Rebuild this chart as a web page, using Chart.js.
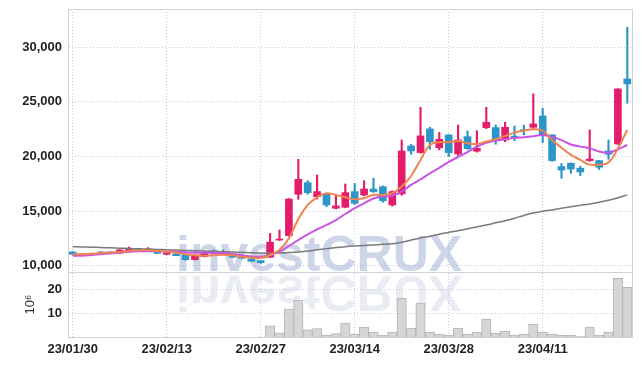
<!DOCTYPE html>
<html>
<head>
<meta charset="utf-8">
<script src="https://cdn.jsdelivr.net/npm/chart.js@4.4.1/dist/chart.umd.min.js"></script>
<style>
  html, body { margin: 0; padding: 0; background: #fff; }
  .wrap { width: 642px; height: 366px; position: relative; }
</style>
</head>
<body>
<div class="wrap"><canvas id="stock_chart"></canvas></div>
<script>
const dates = ['23/01/30','23/01/31','23/02/01','23/02/02','23/02/03','23/02/06','23/02/07','23/02/08','23/02/09','23/02/10',
  '23/02/13','23/02/14','23/02/15','23/02/16','23/02/17','23/02/20','23/02/21','23/02/22','23/02/23','23/02/24',
  '23/02/27','23/02/28','23/03/02','23/03/03','23/03/06','23/03/07','23/03/08','23/03/09','23/03/10','23/03/13',
  '23/03/14','23/03/15','23/03/16','23/03/17','23/03/20','23/03/21','23/03/22','23/03/23','23/03/24','23/03/27',
  '23/03/28','23/03/29','23/03/30','23/03/31','23/04/03','23/04/04','23/04/05','23/04/06','23/04/07','23/04/10',
  '23/04/11','23/04/12','23/04/13','23/04/14','23/04/17','23/04/18','23/04/19','23/04/20','23/04/21','23/04/24']

const opens = [11250, 10950, 11060, 11260, 11260, 11150, 11300, 11590, 11480, 11350,
  11040, 11070, 10980, 10560, 10830, 11330, 11290, 11010, 10820, 10610,
  10460, 10800, 12350, 12750, 16540, 17600, 16320, 16540, 15260, 15350,
  16780, 16470, 17020, 17230, 15560, 16570, 20960, 20350, 22520, 20800,
  21970, 20230, 21810, 20480, 22640, 22640, 21510, 21860, 22450, 22670,
  23710, 21970, 19070, 19380, 18920, 19620, 19620, 20500, 21140, 27100]
const closes = [11050, 11070, 11120, 11200, 11210, 11440, 11520, 11440, 11520, 11130,
  11190, 10920, 10550, 10950, 11120, 11150, 11240, 10770, 10680, 10400,
  10270, 12150, 12440, 16100, 17910, 16690, 16780, 15560, 15470, 16690,
  15710, 17020, 16780, 15950, 16780, 20500, 20500, 21880, 21350, 21570,
  20350, 21510, 20710, 20750, 23130, 21450, 22670, 21760, 22350, 22980,
  21970, 19620, 18760, 18850, 18580, 19770, 19010, 20200, 26180, 26640]
const highs = [11300, 11100, 11130, 11270, 11270, 11480, 11700, 11600, 11650, 11380,
  11200, 11100, 11000, 10980, 11300, 11450, 11450, 11050, 10850, 10650,
  10480, 12950, 13270, 16150, 19740, 17780, 18300, 16620, 16470, 17480,
  17530, 17780, 18000, 17300, 16850, 21510, 21100, 24500, 22670, 22200,
  22000, 22880, 22330, 22360, 24500, 22880, 23130, 22790, 22880, 25730,
  24410, 22000, 19350, 19400, 19100, 22430, 19650, 21510, 26200, 31830]
const lows = [11000, 10880, 11050, 11190, 11200, 11120, 11250, 11430, 11400, 11100,
  11000, 10900, 10500, 10520, 10800, 11120, 11130, 10740, 10650, 10380,
  10200, 10750, 12300, 12700, 16080, 16540, 16100, 15400, 15200, 15300,
  15600, 16400, 16700, 15800, 15450, 16450, 20200, 20300, 20660, 20600,
  19980, 20100, 20650, 20400, 22550, 21120, 21350, 21450, 21970, 22500,
  21260, 19550, 18000, 18460, 18240, 19550, 18800, 19740, 21100, 24870]

const ma5 = [11050, 11050, 11100, 11150, 11200, 11250, 11350, 11400, 11400, 11350,
  11300, 11200, 11050, 10950, 10900, 10950, 11000, 10950, 10800, 10750,
  10700, 10980, 11440, 12510, 14250, 15560, 16260, 16630, 16470, 16260,
  16080, 16170, 16470, 16470, 16630, 17240, 18210, 19680, 21050, 21300,
  21300, 21420, 21210, 21140, 21360, 21570, 21880, 22180, 22360, 22490,
  22360, 21500, 20800, 20150, 19680, 19250, 19250, 19450, 20750, 22430]
const ma20 = [10900, 10920, 10980, 11050, 11120, 11200, 11280, 11320, 11330, 11320,
  11300, 11270, 11230, 11200, 11180, 11170, 11150, 11070, 10950, 10850,
  10820, 10980, 11280, 11800, 12350, 12870, 13330, 13730, 14180, 14730,
  15260, 15710, 16150, 16350, 16400, 16780, 17400, 17900, 18450, 18950,
  19500, 19950, 20400, 20900, 21250, 21450, 21570, 21700, 21760, 21850,
  21970, 21800, 21500, 21100, 20900, 20750, 20450, 20350, 20650, 21050]
const ma60 = [11740, 11710, 11690, 11660, 11630, 11600, 11570, 11540, 11520, 11490,
  11460, 11430, 11400, 11370, 11340, 11310, 11280, 11250, 11210, 11180,
  11150, 11130, 11150, 11200, 11260, 11350, 11450, 11560, 11660, 11740,
  11800, 11850, 11900, 11950, 12010, 12150, 12350, 12540, 12700, 12880,
  13040, 13200, 13380, 13550, 13720, 13920, 14120, 14350, 14600, 14820,
  14980, 15100, 15250, 15390, 15520, 15650, 15800, 15990, 16220, 16480]

// volume in millions of shares (10^6), no data before 23/02/28
const volumes = [null, null, null, null, null, null, null, null, null, null,
  null, null, null, null, null, null, null, null, null, null,
  null, 4.7, 1.7, 11.7, 15.5, 3.0, 3.5, 0.8, 1.4, 5.8,
  1.2, 4.2, 2.1, 0.8, 2.1, 16.2, 3.7, 14.2, 2.1, 1.2,
  0.8, 3.7, 1.2, 2.1, 7.5, 1.6, 2.5, 0.8, 1.2, 5.4,
  2.1, 1.2, 0.8, 0.8, 0.4, 4.2, 0.8, 2.1, 24.6, 20.8]

const priceTicks = [10000, 15000, 20000, 25000, 30000]
const volumeTicks = [10, 20]

const UP = '#e31d6c'
const DOWN = '#2d96c8'
const GRID = '#c9cbdc'
const FRAME = '#d2d2d6'
const tickFont = { family: '"Liberation Sans", sans-serif', size: 13, weight: 'bold' }

const candleColors = opens.map((o, i) => closes[i] >= o ? UP : DOWN)
const wicks = lows.map((l, i) => [l, highs[i]])
const bodies = opens.map((o, i) => [o, closes[i]])

// fixed axis width, no extra label overflow padding
function fixLeftAxis(scale) {
    scale.width = 68
    scale.paddingTop = 0
    scale.paddingBottom = 0
}

const watermark = {
    id: 'watermark',
    beforeDatasetsDraw(chart) {
        const { ctx, chartArea } = chart
        const base = chart.scales.y.bottom
        const x = chartArea.left + 108
        ctx.save()
        ctx.beginPath()
        ctx.rect(chartArea.left, chartArea.top, chartArea.right - chartArea.left, chartArea.bottom - chartArea.top)
        ctx.clip()
        ctx.font = 'bold 50px "Liberation Sans", sans-serif'
        ctx.textBaseline = 'alphabetic'
        ctx.fillStyle = 'rgba(155, 172, 210, 0.5)'
        ctx.fillText('investCRUX', x, base - 1)
        ctx.translate(0, base * 2 + 4)
        ctx.scale(1, -1)
        ctx.fillStyle = 'rgba(190, 196, 218, 0.32)'
        ctx.fillText('investCRUX', x, base)
        ctx.restore()
    },
    afterDraw(chart) {
        const { ctx, chartArea } = chart
        const split = chart.scales.y.bottom
        ctx.save()
        ctx.strokeStyle = FRAME
        ctx.lineWidth = 1
        ctx.beginPath()
        ctx.moveTo(chartArea.left, Math.round(chartArea.top) + 0.5)
        ctx.lineTo(chartArea.right, Math.round(chartArea.top) + 0.5)
        ctx.moveTo(Math.round(chartArea.right) + 0.5, chartArea.top)
        ctx.lineTo(Math.round(chartArea.right) + 0.5, chartArea.bottom)
        ctx.moveTo(chartArea.left, Math.round(split) + 0.5)
        ctx.lineTo(chartArea.right, Math.round(split) + 0.5)
        ctx.stroke()
        ctx.restore()
    }
}

const stock_chart = document.querySelector('#stock_chart')

function stockChart() {
    new Chart(stock_chart, {
        type: 'bar',
        data: {
            labels: dates,
            datasets: [
                { type: 'line', label: 'MA5', data: ma5, borderColor: '#ee8450', borderWidth: 2, tension: 0.4, pointRadius: 0, order: 0, yAxisID: 'y' },
                { type: 'line', label: 'MA20', data: ma20, borderColor: '#c853e6', borderWidth: 2, tension: 0.4, pointRadius: 0, order: 0, yAxisID: 'y' },
                { type: 'line', label: 'MA60', data: ma60, borderColor: '#7a7a7a', borderWidth: 1.5, tension: 0.4, pointRadius: 0, order: 0, yAxisID: 'y' },
                { label: 'body', data: bodies, backgroundColor: candleColors, barThickness: 7, grouped: false, order: 1, yAxisID: 'y' },
                { label: 'wick', data: wicks, backgroundColor: candleColors, barThickness: 1.5, grouped: false, order: 2, yAxisID: 'y' },
                { label: 'volume', data: volumes, backgroundColor: '#d6d6d6', borderColor: '#b5b5b5', borderWidth: 1,
                  barPercentage: 1, categoryPercentage: 1, grouped: false, order: 3, yAxisID: 'vol' }
            ]
        },
        options: {
            responsive: true,
            maintainAspectRatio: false,
            animation: false,
            layout: { padding: { top: 9, right: 10, left: 0, bottom: 0 } },
            plugins: { legend: { display: false }, tooltip: { enabled: false } },
            scales: {
                x: {
                    grid: {
                        offset: false,
                        drawTicks: false,
                        color: (ctx) => ctx.index % 10 === 0 ? GRID : 'rgba(0,0,0,0)'
                    },
                    border: { color: FRAME, dash: [1, 2] },
                    ticks: {
                        autoSkip: false, maxRotation: 0, minRotation: 0, padding: 5,
                        color: '#222', font: tickFont,
                        callback: (value, index) => index % 10 === 0 ? dates[index] : ''
                    },
                    afterFit: (scale) => { scale.height = 29 }
                },
                vol: {
                    type: 'linear', position: 'left', stack: 'panels', stackWeight: 65,
                    min: 0, max: 27.2,
                    afterBuildTicks: (scale) => { scale.ticks = volumeTicks.map(v => ({ value: v })) },
                    afterFit: fixLeftAxis,
                    grid: { color: GRID, drawTicks: false },
                    border: { color: FRAME, dash: [1, 2] },
                    ticks: { color: '#222', font: tickFont, padding: 6 },
                    title: { display: true, text: '10⁶', color: '#333', padding: { top: 23, bottom: 0 },
                             font: { family: '"Liberation Sans", sans-serif', size: 13 } }
                },
                y: {
                    type: 'linear', position: 'left', stack: 'panels', stackWeight: 263,
                    min: 9420, max: 33500,
                    afterBuildTicks: (scale) => { scale.ticks = priceTicks.map(v => ({ value: v })) },
                    afterFit: fixLeftAxis,
                    grid: { color: GRID, drawTicks: false },
                    border: { color: FRAME, dash: [1, 2] },
                    ticks: { color: '#222', font: tickFont, padding: 6 }
                }
            }
        },
        plugins: [watermark]
    })
}

stockChart()
</script>
</body>
</html>
